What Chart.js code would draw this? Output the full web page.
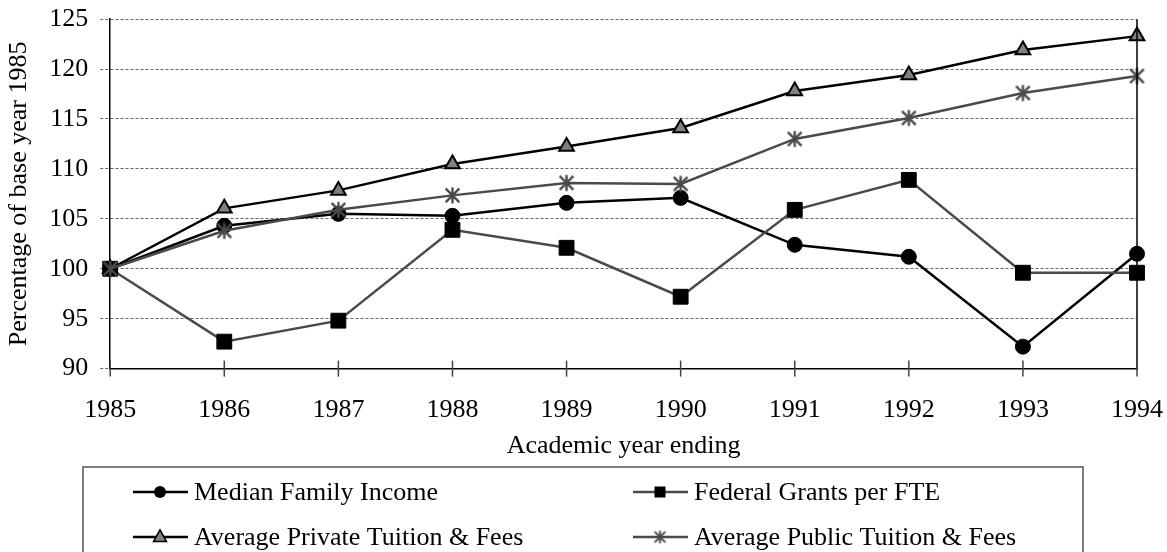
<!DOCTYPE html>
<html>
<head>
<meta charset="utf-8">
<script src="https://cdn.jsdelivr.net/npm/chart.js@4.4.1/dist/chart.umd.min.js"></script>
<style>
  html, body { margin: 0; padding: 0; background: #fff; }
  #wrap { position: relative; width: 1167px; height: 552px; }
</style>
</head>
<body>
<div id="wrap"><canvas id="c" width="1167" height="552"></canvas></div>
<script>
const years = ['1985','1986','1987','1988','1989','1990','1991','1992','1993','1994'];
const medianIncome = [100, 104.3, 105.5, 105.3, 106.6, 107.1, 102.4, 101.2, 92.2, 101.5];
const federalGrants = [100, 92.7, 94.8, 103.9, 102.1, 97.2, 105.9, 108.9, 99.6, 99.6];
const privateTuition = [100, 106.05, 107.85, 110.5, 112.25, 114.1, 117.8, 119.4, 121.9, 123.3];
const publicTuition = [100, 103.8, 105.9, 107.35, 108.6, 108.5, 113.0, 115.1, 117.6, 119.3];
const yTicks = [90, 95, 100, 105, 110, 115, 120, 125];
const seriesNames = ['Median Family Income', 'Federal Grants per FTE', 'Average Private Tuition & Fees', 'Average Public Tuition & Fees'];

const FONT = "'Liberation Serif', 'Times New Roman', serif";
const FS = 26;

// Excel-like asterisk marker: X plus a vertical bar
function makeAsterisk(size, lw, color) {
  const c = document.createElement('canvas');
  c.width = size; c.height = size;
  const g = c.getContext('2d');
  const m = size / 2, a = size * 0.36, v = size * 0.42;
  g.strokeStyle = color; g.lineWidth = lw; g.lineCap = 'butt';
  g.beginPath();
  g.moveTo(m, m - v); g.lineTo(m, m + v);
  g.moveTo(m - a, m - a); g.lineTo(m + a, m + a);
  g.moveTo(m + a, m - a); g.lineTo(m - a, m + a);
  g.stroke();
  return c;
}
const starBig = makeAsterisk(19, 2.4, '#4a4a4a');
const starSmall = makeAsterisk(15, 2, '#4a4a4a');

const datasets = [
  { label: seriesNames[0], data: medianIncome, borderColor: '#000', borderWidth: 2.5,
    pointStyle: 'circle', pointRadius: 7.5, pointBackgroundColor: '#000', pointBorderColor: '#000', pointBorderWidth: 1, order: 2 },
  { label: seriesNames[1], data: federalGrants, borderColor: '#4a4a4a', borderWidth: 2.5,
    pointStyle: 'rect', pointRadius: 10.5, pointBackgroundColor: '#000', pointBorderColor: '#000', pointBorderWidth: 1, order: 1 },
  { label: seriesNames[2], data: privateTuition, borderColor: '#000', borderWidth: 2.5,
    pointStyle: 'triangle', pointRadius: 8.5, pointBackgroundColor: '#808080', pointBorderColor: '#000', pointBorderWidth: 2, order: 3 },
  { label: seriesNames[3], data: publicTuition, borderColor: '#4a4a4a', borderWidth: 2.5,
    pointStyle: starBig, pointRadius: 9, pointBackgroundColor: '#4a4a4a', pointBorderColor: '#4a4a4a', pointBorderWidth: 2.5, order: 0 }
];
datasets.forEach(d => { d.fill = false; d.tension = 0; d.pointHoverRadius = d.pointRadius; });

function drawMarker(ctx, style, x, y, r, fill, stroke, lw) {
  ctx.save();
  ctx.fillStyle = fill; ctx.strokeStyle = stroke; ctx.lineWidth = lw;
  ctx.beginPath();
  if (style === 'circle') {
    ctx.arc(x, y, r, 0, Math.PI * 2); ctx.fill();
  } else if (style === 'rect') {
    ctx.rect(x - r, y - r, 2 * r, 2 * r); ctx.fill();
  } else if (style === 'triangle') {
    ctx.moveTo(x, y - r * 1.1); ctx.lineTo(x + r, y + r * 0.7); ctx.lineTo(x - r, y + r * 0.7); ctx.closePath();
    ctx.fill(); ctx.stroke();
  } else {
    ctx.drawImage(starSmall, x - starSmall.width / 2, y - starSmall.height / 2);
  }
  ctx.restore();
}

const extras = {
  id: 'extras',
  afterDatasetsDraw(chart) {
    const ctx = chart.ctx, ca = chart.chartArea, xs = chart.scales.x;
    ctx.save();
    ctx.strokeStyle = '#000'; ctx.lineWidth = 1.5;
    ctx.beginPath(); ctx.moveTo(ca.right, ca.top); ctx.lineTo(ca.right, ca.bottom); ctx.stroke();
    ctx.strokeStyle = '#444'; ctx.lineWidth = 1.5;
    xs.ticks.forEach((t, i) => {
      const px = xs.getPixelForTick(i);
      ctx.beginPath(); ctx.moveTo(px, ca.bottom - 8); ctx.lineTo(px, ca.bottom + 8); ctx.stroke();
    });
    ctx.restore();
  },
  afterDraw(chart) {
    const ctx = chart.ctx;
    const H = chart.height;
    const boxL = 83, boxT = 467, boxR = 1083;
    ctx.save();
    ctx.strokeStyle = '#555'; ctx.lineWidth = 1.5;
    ctx.beginPath();
    ctx.moveTo(boxL, H + 5); ctx.lineTo(boxL, boxT); ctx.lineTo(boxR, boxT); ctx.lineTo(boxR, H + 5);
    ctx.stroke();
    const cols = [133, 633], rows = [492, 537];
    const markerSize = { circle: 6, rect: 5.5, triangle: 6.5 };
    chart.data.datasets.forEach((ds, i) => {
      const x0 = cols[i % 2], y0 = rows[Math.floor(i / 2)];
      ctx.strokeStyle = ds.borderColor; ctx.lineWidth = 2.5;
      ctx.beginPath(); ctx.moveTo(x0, y0); ctx.lineTo(x0 + 55, y0); ctx.stroke();
      drawMarker(ctx, ds.pointStyle, x0 + 27, y0, markerSize[ds.pointStyle] || 6, ds.pointBackgroundColor, ds.pointBorderColor, 1.5);
      ctx.fillStyle = '#000';
      ctx.font = FS + 'px ' + FONT;
      ctx.textBaseline = 'middle'; ctx.textAlign = 'left';
      ctx.fillText(ds.label, x0 + 61, y0 + 1);
    });
    ctx.restore();
  }
};

new Chart(document.getElementById('c'), {
  type: 'line',
  data: { labels: years, datasets },
  plugins: [extras],
  options: {
    responsive: false,
    animation: false,
    devicePixelRatio: 1,
    layout: { padding: { top: 0, right: 0, bottom: 90, left: 4 } },
    plugins: { legend: { display: false }, tooltip: { enabled: false } },
    scales: {
      x: {
        type: 'category',
        offset: false,
        grid: { display: true, drawOnChartArea: false, drawTicks: true, tickLength: 22, tickColor: 'rgba(0,0,0,0)', tickWidth: 1 },
        border: { display: true, color: '#000', width: 1.5 },
        ticks: { color: '#000', font: { family: FONT, size: FS }, padding: 4, maxRotation: 0, autoSkip: false },
        title: { display: true, text: 'Academic year ending', color: '#000', font: { family: FONT, size: FS }, padding: { top: 1, bottom: 0 } }
      },
      y: {
        min: 90, max: 125,
        afterBuildTicks(scale) { scale.ticks = yTicks.map(v => ({ value: v })); },
        grid: { color: '#666', lineWidth: 1, tickLength: 10, tickColor: '#666', tickBorderDash: [3, 2] },
        border: { display: true, color: '#000', width: 1.5, dash: [3, 2] },
        ticks: { color: '#000', font: { family: FONT, size: FS, lineHeight: 0.55 }, padding: 12 },
        title: { display: true, text: 'Percentage of base year 1985', color: '#000', font: { family: FONT, size: FS }, padding: { top: 0, bottom: 2 } }
      }
    }
  }
});
</script>
</body>
</html>
